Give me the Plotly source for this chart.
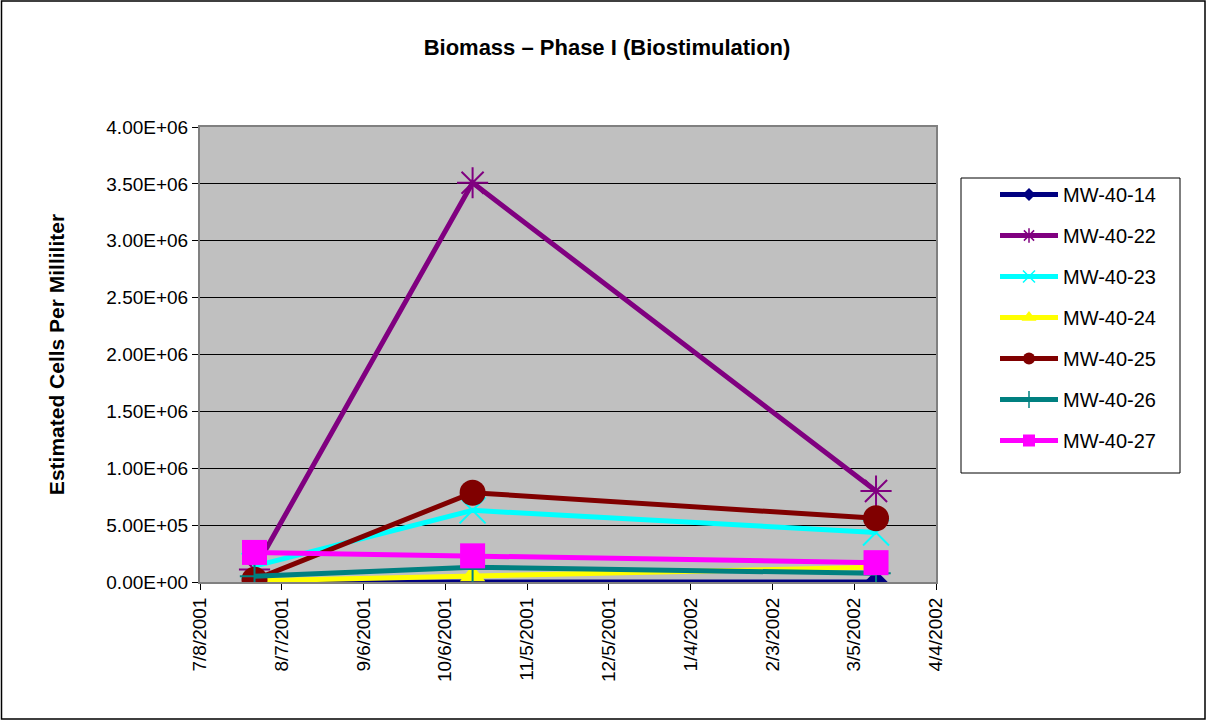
import plotly.graph_objects as go

dates = ["2001-07-28", "2001-10-16", "2002-03-13"]
series_names = ["MW-40-14", "MW-40-22", "MW-40-23", "MW-40-24", "MW-40-25", "MW-40-26", "MW-40-27"]
mw_40_14 = [0.0, 0.0, 0.0]
mw_40_22 = [1.1e5, 3.51e6, 8.0e5]
mw_40_23 = [1.4e5, 6.3e5, 4.35e5]
mw_40_24 = [1.0e4, 5.5e4, 1.3e5]
mw_40_25 = [2.0e4, 7.85e5, 5.6e5]
mw_40_26 = [5.0e4, 1.3e5, 7.6e4]
mw_40_27 = [2.6e5, 2.3e5, 1.7e5]
x_tick_vals = ["2001-07-08", "2001-08-07", "2001-09-06", "2001-10-06", "2001-11-05",
               "2001-12-05", "2002-01-04", "2002-02-03", "2002-03-05", "2002-04-04"]
x_tick_text = ["7/8/2001", "8/7/2001", "9/6/2001", "10/6/2001", "11/5/2001",
               "12/5/2001", "1/4/2002", "2/3/2002", "3/5/2002", "4/4/2002"]
y_tick_vals = [0, 5e5, 1e6, 1.5e6, 2e6, 2.5e6, 3e6, 3.5e6, 4e6]
y_tick_text = ["0.00E+00", "5.00E+05", "1.00E+06", "1.50E+06", "2.00E+06",
               "2.50E+06", "3.00E+06", "3.50E+06", "4.00E+06"]

values = [mw_40_14, mw_40_22, mw_40_23, mw_40_24, mw_40_25, mw_40_26, mw_40_27]
colors = ["#000080", "#800080", "#00FFFF", "#FFFF00", "#800000", "#008080", "#FF00FF"]
symbols = ["diamond", "asterisk-open", "x-thin-open", "triangle-up", "circle", "cross-thin-open", "square"]
sizes = [18, 26, 26, 22, 26, 21, 25]
legend_sizes = [10, 12, 12, 13, 12, 12, 12]

FONT = "Liberation Sans, Arial, sans-serif"
fig = go.Figure()
for i, (name, vals) in enumerate(zip(series_names, values)):
    open_sym = symbols[i].endswith("open")
    fig.add_trace(go.Scatter(
        x=dates, y=vals, name=name, mode="lines+markers",
        legendgroup=name, showlegend=False,
        line=dict(color=colors[i], width=5),
        marker=dict(symbol=symbols[i], size=sizes[i], color=colors[i],
                    line=dict(color=colors[i], width=2 if open_sym else 0)),
    ))
# legend entries (no data drawn) so legend markers can be smaller, as in the reference
for i, name in enumerate(series_names):
    open_sym = symbols[i].endswith("open")
    fig.add_trace(go.Scatter(
        x=[None], y=[None], name=name, mode="lines+markers",
        legendgroup=name, showlegend=True,
        line=dict(color=colors[i], width=5),
        marker=dict(symbol=symbols[i], size=legend_sizes[i], color=colors[i],
                    line=dict(color=colors[i], width=1.5 if open_sym else 0)),
    ))

W, H = 1207, 721
L, R, T, B = 200, 271, 127, 139
pw, ph = W - L - R, H - T - B

def px_x(px):
    return (px - L) / pw

def px_y(py):
    return (H - B - py) / ph

fig.update_layout(
    width=W, height=H,
    margin=dict(l=L, r=R, t=T, b=B),
    paper_bgcolor="white",
    plot_bgcolor="#C0C0C0",
    font=dict(family=FONT, size=19, color="black"),
    title=dict(text="<b>Biomass – Phase I (Biostimulation)</b>", x=607 / W, xref="container",
               y=1 - 47 / H, yref="container", xanchor="center", yanchor="middle",
               font=dict(size=22, family=FONT)),
    showlegend=True,
    legend=dict(x=px_x(995), y=px_y(175), xanchor="left", yanchor="top",
                borderwidth=0, bgcolor="rgba(0,0,0,0)",
                font=dict(size=20, family=FONT),
                traceorder="grouped", tracegroupgap=12, itemwidth=58),
    xaxis=dict(type="date", range=["2001-07-08", "2002-04-04"],
               tickmode="array", tickvals=x_tick_vals, ticktext=x_tick_text,
               tickangle=-90, ticks="outside", ticklen=6, tickcolor="black",
               showgrid=False, zeroline=False,
               showline=True, linecolor="#808080", linewidth=2, mirror=True,
               tickfont=dict(size=19, family=FONT)),
    yaxis=dict(range=[0, 4e6], tickmode="array", tickvals=y_tick_vals, ticktext=y_tick_text,
               ticks="outside", ticklen=6, tickcolor="black",
               showgrid=True, gridcolor="black", gridwidth=1, zeroline=False,
               showline=True, linecolor="#808080", linewidth=2, mirror=True,
               tickfont=dict(size=19, family=FONT),
               title=dict(text="<b>Estimated Cells Per Milliliter</b>", standoff=36,
                          font=dict(size=21, family=FONT))),
)

# legend frame
fig.add_shape(type="rect", xref="paper", yref="paper",
              x0=px_x(961), x1=px_x(1180), y0=px_y(473), y1=px_y(178),
              line=dict(color="black", width=1), fillcolor="white", layer="below")
# outer chart border
fig.add_shape(type="rect", xref="paper", yref="paper",
              x0=px_x(1.5), x1=px_x(W - 2), y0=px_y(H - 2), y1=px_y(1),
              line=dict(color="black", width=1.5), fillcolor="rgba(0,0,0,0)", layer="above")

fig.write_html("out.html", config={"displayModeBar": False},
               post_script="document.body.style.margin='0px';")
